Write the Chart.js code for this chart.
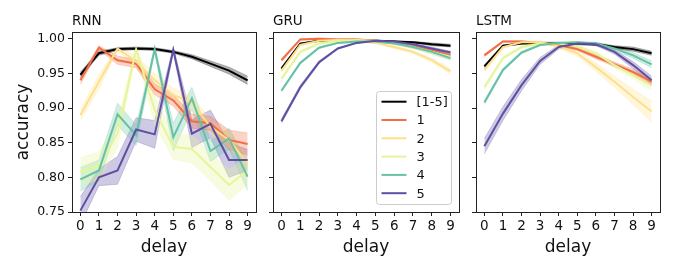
<!DOCTYPE html>
<html>
<head>
<meta charset="utf-8">
<script src="https://cdn.jsdelivr.net/npm/chart.js@4.4.1/dist/chart.umd.min.js"></script>
<style>
html, body { margin: 0; padding: 0; background: #fff; }
#wrap { position: relative; width: 674px; height: 270px; overflow: hidden; }
canvas { position: absolute; top: 0; }
</style>
</head>
<body>
<div id="wrap">
  <canvas id="rnn" width="262" height="270" style="left:0px"></canvas>
  <canvas id="gru" width="204" height="270" style="left:262px"></canvas>
  <canvas id="lstm" width="208" height="270" style="left:466px"></canvas>
</div>
<script>
// delays on the x axis, one row per group: [1-5], 1, 2, 3, 4, 5
const delays = [0, 1, 2, 3, 4, 5, 6, 7, 8, 9];
const yTicks = [0.75, 0.80, 0.85, 0.90, 0.95, 1.00];
const groups = ['[1-5]', '1', '2', '3', '4', '5'];
const colors = ['#000000', '#f46d43', '#fee08b', '#e6f598', '#66c2a5', '#5e4fa2'];

const rnnMean = [
    [0.948, 0.979, 0.985, 0.986, 0.985, 0.981, 0.974, 0.964, 0.954, 0.940],
    [0.940, 0.987, 0.969, 0.964, 0.927, 0.911, 0.881, 0.878, 0.854, 0.848],
    [0.890, 0.938, 0.986, 0.967, 0.940, 0.919, 0.907, 0.873, 0.854, 0.820],
    [0.808, 0.817, 0.863, 0.985, 0.897, 0.844, 0.841, 0.815, 0.789, 0.810],
    [0.797, 0.810, 0.891, 0.861, 0.985, 0.858, 0.914, 0.838, 0.856, 0.801],
    [0.752, 0.800, 0.810, 0.869, 0.862, 0.984, 0.863, 0.877, 0.825, 0.825]
];
const rnnSpread = [
    [0.004, 0.003, 0.002, 0.002, 0.002, 0.002, 0.003, 0.004, 0.005, 0.006],
    [0.006, 0.003, 0.006, 0.006, 0.008, 0.008, 0.010, 0.010, 0.014, 0.016],
    [0.008, 0.010, 0.003, 0.008, 0.010, 0.010, 0.010, 0.010, 0.010, 0.010],
    [0.020, 0.020, 0.020, 0.004, 0.020, 0.018, 0.020, 0.020, 0.022, 0.020],
    [0.017, 0.015, 0.016, 0.015, 0.004, 0.020, 0.016, 0.015, 0.015, 0.020],
    [0.020, 0.012, 0.020, 0.017, 0.020, 0.004, 0.020, 0.020, 0.025, 0.015]
];

const gruMean = [
    [0.957, 0.993, 0.997, 0.998, 0.998, 0.997, 0.996, 0.995, 0.992, 0.990],
    [0.969, 0.999, 1.000, 0.999, 0.999, 0.997, 0.994, 0.989, 0.984, 0.976],
    [0.954, 0.991, 0.997, 0.998, 0.997, 0.994, 0.988, 0.981, 0.969, 0.953],
    [0.942, 0.981, 0.993, 0.997, 0.998, 0.997, 0.993, 0.988, 0.981, 0.974],
    [0.925, 0.965, 0.987, 0.994, 0.996, 0.996, 0.993, 0.988, 0.981, 0.972],
    [0.881, 0.930, 0.966, 0.986, 0.994, 0.997, 0.996, 0.992, 0.986, 0.980]
];
const gruSpread = [
    [0.002, 0.001, 0.001, 0.001, 0.001, 0.001, 0.001, 0.001, 0.002, 0.002],
    [0.002, 0.001, 0.001, 0.001, 0.001, 0.001, 0.001, 0.002, 0.002, 0.003],
    [0.002, 0.001, 0.001, 0.001, 0.001, 0.001, 0.002, 0.002, 0.003, 0.004],
    [0.002, 0.002, 0.001, 0.001, 0.001, 0.001, 0.001, 0.002, 0.003, 0.003],
    [0.002, 0.002, 0.001, 0.001, 0.001, 0.001, 0.001, 0.002, 0.003, 0.003],
    [0.003, 0.003, 0.002, 0.001, 0.001, 0.001, 0.001, 0.001, 0.002, 0.002]
];

const lstmMean = [
    [0.960, 0.990, 0.993, 0.994, 0.994, 0.993, 0.992, 0.988, 0.985, 0.979],
    [0.976, 0.996, 0.996, 0.994, 0.991, 0.985, 0.974, 0.963, 0.952, 0.938],
    [0.955, 0.988, 0.995, 0.995, 0.989, 0.979, 0.959, 0.938, 0.916, 0.895],
    [0.930, 0.972, 0.988, 0.993, 0.993, 0.989, 0.979, 0.962, 0.947, 0.932],
    [0.908, 0.955, 0.980, 0.991, 0.994, 0.995, 0.993, 0.986, 0.976, 0.963],
    [0.845, 0.892, 0.933, 0.968, 0.988, 0.993, 0.992, 0.981, 0.962, 0.940]
];
const lstmSpread = [
    [0.002, 0.001, 0.001, 0.001, 0.001, 0.001, 0.002, 0.002, 0.003, 0.003],
    [0.002, 0.001, 0.001, 0.001, 0.002, 0.002, 0.003, 0.003, 0.004, 0.004],
    [0.003, 0.002, 0.002, 0.002, 0.003, 0.004, 0.006, 0.008, 0.011, 0.015],
    [0.003, 0.002, 0.002, 0.001, 0.002, 0.002, 0.003, 0.004, 0.005, 0.006],
    [0.003, 0.002, 0.002, 0.001, 0.001, 0.001, 0.002, 0.003, 0.004, 0.005],
    [0.011, 0.010, 0.008, 0.005, 0.003, 0.002, 0.002, 0.003, 0.005, 0.006]
];

const FONT = "'DejaVu Sans', sans-serif";
const INK = '#222222';

function rgba(hex, a) {
    const n = parseInt(hex.slice(1), 16);
    return `rgba(${(n >> 16) & 255}, ${(n >> 8) & 255}, ${n & 255}, ${a})`;
}

function buildSets(means, spread) {
    const sets = [];
    means.forEach((m, i) => {
        const c = colors[i];
        sets.push({
            data: delays.map((d, k) => ({ x: d, y: m[k] + spread[i][k] })),
            borderColor: rgba(c, 0.25), borderWidth: 1,
            backgroundColor: rgba(c, 0.3), fill: '+1', order: 20
        });
        sets.push({
            data: delays.map((d, k) => ({ x: d, y: m[k] - spread[i][k] })),
            borderColor: rgba(c, 0.25), borderWidth: 1, fill: false, order: 20
        });
        sets.push({
            label: groups[i],
            data: delays.map((d, k) => ({ x: d, y: m[k] })),
            borderColor: c, borderWidth: 2, fill: false, order: 10 - i
        });
    });
    return sets;
}

// box around the plot area and the small panel title
const panelFrame = {
    id: 'panelFrame',
    afterDraw(chart, args, opts) {
        const { ctx, chartArea: a } = chart;
        ctx.save();
        ctx.strokeStyle = INK;
        ctx.lineWidth = 1;
        ctx.strokeRect(Math.round(a.left) + 0.5, Math.round(a.top) + 0.5,
            Math.round(a.right - a.left), Math.round(a.bottom - a.top));
        ctx.fillStyle = '#111';
        ctx.font = `13.5px ${FONT}`;
        ctx.textBaseline = 'alphabetic';
        ctx.fillText(opts.title, a.left, a.top - 7);
        ctx.restore();
    }
};

const insideLegend = {
    id: 'insideLegend',
    afterDraw(chart, args, opts) {
        if (!opts.show) return;
        const { ctx } = chart;
        const x0 = 376.5 - 262, y0 = 91.5, w = 75, h = 113;
        ctx.save();
        ctx.fillStyle = 'rgba(255,255,255,0.8)';
        ctx.strokeStyle = '#cccccc';
        ctx.lineWidth = 1;
        ctx.beginPath();
        ctx.roundRect(x0, y0, w, h, 3);
        ctx.fill();
        ctx.stroke();
        ctx.font = `13px ${FONT}`;
        ctx.textBaseline = 'middle';
        groups.forEach((g, i) => {
            const y = 101.7 + i * 18.3;
            ctx.strokeStyle = colors[i];
            ctx.lineWidth = 2;
            ctx.beginPath();
            ctx.moveTo(x0 + 5, y);
            ctx.lineTo(x0 + 30, y);
            ctx.stroke();
            ctx.fillStyle = '#111';
            ctx.fillText(g, x0 + 40, y + 1);
        });
        ctx.restore();
    }
};

function makePanel(id, title, means, spread, yWidth, padRight, showYLabels, showLegend) {
    new Chart(document.getElementById(id).getContext('2d'), {
        type: 'line',
        data: { datasets: buildSets(means, spread) },
        options: {
            responsive: false,
            animation: false,
            layout: { padding: { left: 0, right: padRight, top: 32, bottom: 0 } },
            elements: { point: { radius: 0 }, line: { tension: 0 } },
            plugins: {
                legend: { display: false },
                tooltip: { enabled: false },
                panelFrame: { title: title },
                insideLegend: { show: showLegend }
            },
            scales: {
                x: {
                    type: 'linear', min: -0.45, max: 9.45,
                    afterBuildTicks: s => { s.ticks = delays.map(v => ({ value: v })); },
                    afterFit: s => { s.height = 58; },
                    grid: { drawOnChartArea: false, drawTicks: true, tickLength: 4, color: INK },
                    border: { display: true, color: INK, width: 1 },
                    ticks: { color: '#111', font: { family: FONT, size: 13.5 }, padding: 2, maxRotation: 0, autoSkip: false },
                    title: { display: true, text: 'delay', color: '#111', font: { family: FONT, size: 17 }, padding: { top: 12, bottom: 12 } }
                },
                y: {
                    type: 'linear', min: 0.75, max: 1.0097,
                    afterBuildTicks: s => { s.ticks = yTicks.map(v => ({ value: v })); },
                    afterFit: s => { s.width = yWidth; },
                    grid: { drawOnChartArea: false, drawTicks: true, tickLength: 4, color: INK },
                    border: { display: true, color: INK, width: 1 },
                    ticks: {
                        display: showYLabels, color: '#111', font: { family: FONT, size: 12.5 }, padding: 3,
                        callback: v => v.toFixed(2)
                    },
                    title: { display: showYLabels, text: 'accuracy', color: '#111', font: { family: FONT, size: 17 }, padding: { top: 13, bottom: 13 } }
                }
            }
        },
        plugins: [panelFrame, insideLegend]
    });
}

makePanel('rnn', 'RNN', rnnMean, rnnSpread, 72, 6, true, false);
makePanel('gru', 'GRU', gruMean, gruSpread, 11, 7, false, true);
makePanel('lstm', 'LSTM', lstmMean, lstmSpread, 10, 14, false, false);
</script>
</body>
</html>
